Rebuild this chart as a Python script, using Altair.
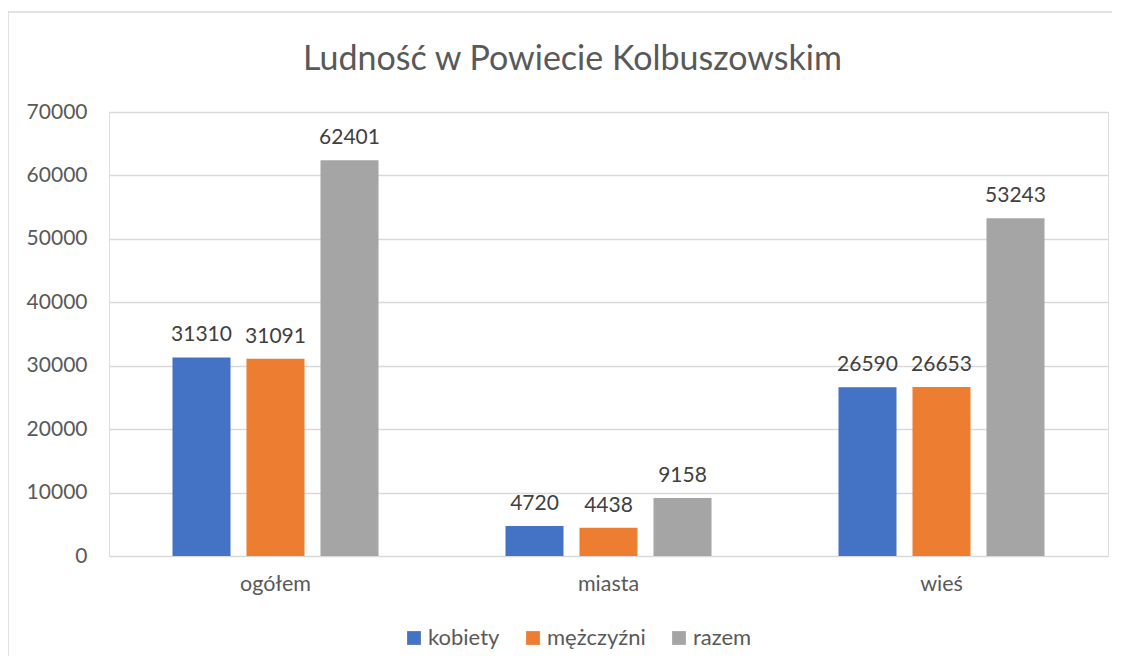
import altair as alt
import pandas as pd

categories = ["ogółem", "miasta", "wieś"]
series = ["kobiety", "mężczyźni", "razem"]
kobiety = [31310, 4720, 26590]
mezczyzni = [31091, 4438, 26653]
razem = [62401, 9158, 53243]
colors = ["#4472C4", "#ED7D31", "#A5A5A5"]

rows = []
for i, c in enumerate(categories):
    for s, vals in zip(series, [kobiety, mezczyzni, razem]):
        rows.append({"kategoria": c, "seria": s, "wartosc": vals[i]})
df = pd.DataFrame(rows)

FONT = "Lato"
W, H = 999, 444

x = alt.X("kategoria:N", sort=categories,
          scale=alt.Scale(paddingInner=0, paddingOuter=0),
          axis=alt.Axis(title=None, labelAngle=0, domain=False, ticks=False,
                        labelFontSize=21.5, labelColor="#595959", labelFont=FONT,
                        labelPadding=17))
xo = alt.XOffset("seria:N", sort=series,
                 scale=alt.Scale(paddingInner=0.216, paddingOuter=0.858))
y = alt.Y("wartosc:Q",
          scale=alt.Scale(domain=[0, 70000], nice=False),
          axis=alt.Axis(title=None, values=list(range(0, 70001, 10000)),
                        domain=False, ticks=False, labelFontSize=21,
                        labelColor="#595959", labelFont=FONT, labelPadding=22,
                        gridColor="#D9D9D9", gridWidth=1.3, format="d"))

color = alt.Color("seria:N", sort=series,
                  scale=alt.Scale(domain=series, range=colors),
                  legend=alt.Legend(title=None, orient="none", direction="horizontal",
                                    legendX=294, legendY=515, symbolType="square",
                                    symbolSize=190, symbolStrokeWidth=0,
                                    labelFontSize=22, labelFont=FONT,
                                    labelColor="#595959", columnPadding=22,
                                    labelOffset=3))

bars = alt.Chart(df).mark_bar().encode(x=x, xOffset=xo, y=y, color=color)
labels = alt.Chart(df).mark_text(baseline="bottom", dy=-12, fontSize=21,
                                 font=FONT, color="#404040").encode(
    x=x, xOffset=xo, y=y, text=alt.Text("wartosc:Q", format="d"))

border = alt.Chart(pd.DataFrame({"a": [0]})).mark_rect(
    fill=None, stroke="#D9D9D9", strokeWidth=1.5).encode(
    x=alt.value(-101), x2=alt.value(1020), y=alt.value(-100), y2=alt.value(600))

chart = alt.layer(border, bars, labels).properties(
    width=W, height=H,
    title=alt.TitleParams("Ludność w Powiecie Kolbuszowskim", fontSize=34,
                          font=FONT, fontWeight="normal", color="#595959",
                          anchor="middle", frame="bounds", dx=4, offset=-66),
    autosize=alt.AutoSizeParams(type="none"),
    padding={"left": 101, "top": 104, "right": 4, "bottom": 100},
).configure_view(stroke=None).configure(background="white")

chart.save("out.html", embed_options={"renderer": "svg", "actions": False})
